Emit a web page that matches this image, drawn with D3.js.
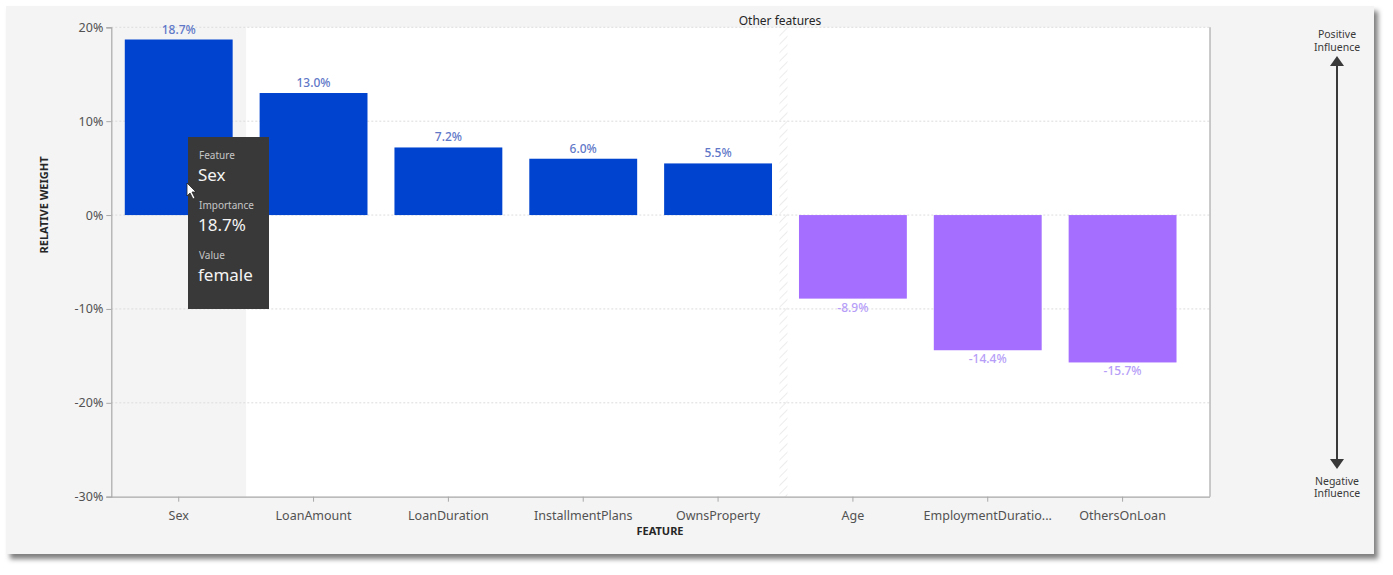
<!DOCTYPE html>
<html><head><meta charset="utf-8">
<script src="https://cdn.jsdelivr.net/npm/d3@7"></script>
<style>
html,body{margin:0;padding:0;background:#fff;}
svg{display:block;font-family:"Noto Sans","Open Sans",sans-serif;}
</style></head>
<body>
<svg id="chart" width="1393" height="575"></svg>
<script>
const features = ["Sex","LoanAmount","LoanDuration","InstallmentPlans","OwnsProperty","Age","EmploymentDuratio...","OthersOnLoan"];
const weights = [18.7, 13.0, 7.2, 6.0, 5.5, -8.9, -14.4, -15.7];
const yTicks = [20, 10, 0, -10, -20, -30];
const tooltipRows = [["Feature","Sex"],["Importance","18.7%"],["Value","female"]];

const svg = d3.select("#chart");
const defs = svg.append("defs");
const f = defs.append("filter").attr("id","sh").attr("x","-5%").attr("y","-5%").attr("width","110%").attr("height","115%");
f.append("feDropShadow").attr("dx",4).attr("dy",5).attr("stdDeviation",2.5).attr("flood-color","#000").attr("flood-opacity",0.5);
const pat = defs.append("pattern").attr("id","hatch").attr("patternUnits","userSpaceOnUse").attr("width",6).attr("height",6).attr("patternTransform","rotate(45)");
pat.append("line").attr("x1",0).attr("y1",0).attr("x2",0).attr("y2",6).attr("stroke","#ececec").attr("stroke-width",2);

// card
svg.append("rect").attr("x",6).attr("y",6).attr("width",1368).attr("height",548).attr("fill","#f4f4f4").attr("filter","url(#sh)");

const x = d3.scaleBand().domain(features).range([111.3, 1190]).paddingInner(0.2).paddingOuter(0.1);
const y = d3.scaleLinear().domain([-30, 20]).range([496.7, 27.3]);
const plotRight = 1210;

// plot background
svg.append("rect").attr("x",111.3).attr("y",y(20)).attr("width",plotRight-111.3).attr("height",y(-30)-y(20)).attr("fill","#ffffff");
// hover band for Sex
svg.append("rect").attr("x",111.3).attr("y",y(20)).attr("width",x.step()).attr("height",y(-30)-y(20)).attr("fill","#f4f4f4");

// divider hatch between features and "other features"
const divX = x("Age") - x.step()*x.paddingInner()/2;
svg.append("rect").attr("x",divX-6).attr("y",y(20)).attr("width",8).attr("height",y(-30)-y(20)).attr("fill","url(#hatch)");

// grid
svg.append("g").selectAll("line").data(yTicks.filter(d=>d>-30)).join("line")
  .attr("x1",111.3).attr("x2",plotRight).attr("y1",d=>y(d)).attr("y2",d=>y(d))
  .attr("stroke","#dcdcdc").attr("stroke-dasharray","2,2").attr("stroke-width",1);

// right border
svg.append("line").attr("x1",plotRight).attr("x2",plotRight).attr("y1",y(20)).attr("y2",y(-30)).attr("stroke","#a8a8a8").attr("stroke-width",1.2);

// bars
const blue = "#0043ce", purple = "#a56eff";
svg.append("g").selectAll("rect").data(features).join("rect")
  .attr("x",d=>x(d)).attr("width",x.bandwidth())
  .attr("y",(d,i)=>y(Math.max(0,weights[i])))
  .attr("height",(d,i)=>Math.abs(y(weights[i])-y(0)))
  .attr("fill",(d,i)=>weights[i]>=0?blue:purple);

// value labels
svg.append("g").selectAll("text").data(features).join("text")
  .attr("x",d=>x(d)+x.bandwidth()/2)
  .attr("y",(d,i)=>weights[i]>=0 ? y(weights[i])-6 : y(weights[i])+13)
  .attr("text-anchor","middle").attr("font-size",12).attr("font-weight",500)
  .attr("fill",(d,i)=>weights[i]>=0?"#5f78c8":"#b69ef8")
  .text((d,i)=>weights[i].toFixed(1)+"%");

// axes
const yAxis = svg.append("g").attr("transform","translate(111.3,0)")
  .call(d3.axisLeft(y).tickValues(yTicks).tickFormat(d=>d+"%").tickSize(5));
const xAxis = svg.append("g").attr("transform",`translate(0,${y(-30)})`)
  .call(d3.axisBottom(x).tickSize(5).tickSizeOuter(0));
xAxis.select(".domain").attr("d",`M111.3,0.5H${plotRight}`);
[yAxis,xAxis].forEach(g=>{
  g.select(".domain").attr("stroke","#a8a8a8").attr("stroke-width",1.2);
  g.selectAll(".tick line").attr("stroke","#a8a8a8");
  g.selectAll(".tick text").attr("fill","#525252").attr("font-size",12.5)
   .attr("font-family","'Noto Sans','Open Sans',sans-serif");
});
xAxis.selectAll(".tick text").attr("dy","1.2em");

// axis titles
svg.append("text").attr("transform",`translate(48,205) rotate(-90)`).attr("text-anchor","middle")
  .attr("font-size",11).attr("font-weight",700).attr("fill","#262626").text("RELATIVE WEIGHT");
svg.append("text").attr("x",660).attr("y",535).attr("text-anchor","middle")
  .attr("font-size",11).attr("font-weight",700).attr("fill","#262626").text("FEATURE");

// Other features label
svg.append("text").attr("x",780).attr("y",25).attr("text-anchor","middle")
  .attr("font-size",12).attr("fill","#262626").text("Other features");

// influence arrow
const ax = 1337;
const infl = svg.append("g").attr("fill","#393939").attr("font-size",10.5).attr("text-anchor","middle");
infl.append("text").attr("x",ax).attr("y",38).text("Positive");
infl.append("text").attr("x",ax).attr("y",50.5).text("Influence");
infl.append("text").attr("x",ax).attr("y",484.5).text("Negative");
infl.append("text").attr("x",ax).attr("y",497).text("Influence");
svg.append("line").attr("x1",ax).attr("x2",ax).attr("y1",62).attr("y2",462).attr("stroke","#393939").attr("stroke-width",2);
svg.append("path").attr("d",`M${ax-7},66L${ax},56L${ax+7},66Z`).attr("fill","#393939");
svg.append("path").attr("d",`M${ax-7},459L${ax},469L${ax+7},459Z`).attr("fill","#393939");

// tooltip
const tt = svg.append("g").attr("transform","translate(188,137)");
tt.append("rect").attr("width",81).attr("height",172).attr("fill","#393939");
tooltipRows.forEach((r,i)=>{
  tt.append("text").attr("x",11).attr("y",22+i*50).attr("font-size",10).attr("fill","#c6c6c6").text(r[0]);
  tt.append("text").attr("x",10).attr("y",44+i*50).attr("font-size",17).attr("fill","#f4f4f4").text(r[1]);
});

// mouse cursor
svg.append("path").attr("d","M187,183 L187,196 L190,193 L193,199 L195,198 L192,192 L196,192 Z")
  .attr("fill","#fff").attr("stroke","#222").attr("stroke-width",0.8);
</script>
</body></html>
